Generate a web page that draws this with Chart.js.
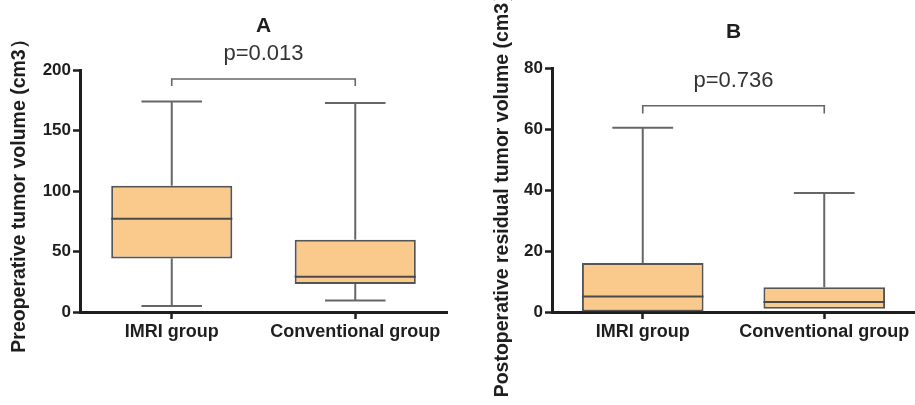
<!DOCTYPE html>
<html>
<head>
<meta charset="utf-8">
<script src="https://cdn.jsdelivr.net/npm/chart.js@4"></script>
<style>
  body { margin: 0; background: #fff; }
  .wrap { position: absolute; top: 0; }
</style>
</head>
<body>
<div class="wrap" style="left:0"><canvas id="chartA" width="455" height="405"></canvas></div>
<div class="wrap" style="left:455px"><canvas id="chartB" width="460" height="405"></canvas></div>
<script>
// categories
const groups = ['IMRI group', 'Conventional group'];

// panel A: preoperative tumor volume
const aMin = [5, 9.6];
const aQ1 = [44.3, 23.1];
const aMedian = [77, 29.2];
const aQ3 = [104.4, 59.8];
const aMax = [174, 172.7];
const aBracket = [192.6, 186.8]; // bar level, tip level
const aPText = 'p=0.013';
const aTicks = { max: 200, step: 50 };

// panel B: postoperative residual tumor volume
const bMin = [0, 0];
const bQ1 = [0, 1.1];
const bMedian = [5.1, 3.3];
const bQ3 = [16.1, 8.1];
const bMax = [60.5, 39.1];
const bBracket = [67.7, 65.2];
const bPText = 'p=0.736';
const bTicks = { max: 80, step: 20 };

Chart.defaults.font.family = '"Liberation Sans", Arial, sans-serif';

const boxParts = {
  id: 'boxParts',
  afterDatasetsDraw(chart, args, opts) {
    const ctx = chart.ctx;
    const x = chart.scales.x, y = chart.scales.y;
    const meta = chart.getDatasetMeta(0);
    const line = (x1, y1, x2, y2) => {
      ctx.beginPath(); ctx.moveTo(x1, y1); ctx.lineTo(x2, y2); ctx.stroke();
    };
    ctx.save();
    meta.data.forEach((bar, i) => {
      const cx = bar.x, half = bar.width / 2, cap = bar.width / 4;
      ctx.strokeStyle = '#666';
      ctx.lineWidth = 2;
      // upper whisker + cap
      line(cx, y.getPixelForValue(opts.q3[i]), cx, y.getPixelForValue(opts.max[i]));
      line(cx - cap, y.getPixelForValue(opts.max[i]), cx + cap, y.getPixelForValue(opts.max[i]));
      // lower whisker + cap (hidden by the axis when it sits at zero)
      if (opts.min[i] > y.min) {
        line(cx, y.getPixelForValue(opts.q1[i]), cx, y.getPixelForValue(opts.min[i]));
        line(cx - cap, y.getPixelForValue(opts.min[i]), cx + cap, y.getPixelForValue(opts.min[i]));
      }
      // median
      ctx.strokeStyle = '#4a4a4a';
      line(cx - half, y.getPixelForValue(opts.median[i]), cx + half, y.getPixelForValue(opts.median[i]));
    });
    // significance bracket
    const x0 = x.getPixelForValue(0), x1 = x.getPixelForValue(1);
    const yb = y.getPixelForValue(opts.bracket[0]), yt = y.getPixelForValue(opts.bracket[1]);
    ctx.strokeStyle = '#666';
    ctx.lineWidth = 1.6;
    ctx.beginPath();
    ctx.moveTo(x0, yt); ctx.lineTo(x0, yb); ctx.lineTo(x1, yb); ctx.lineTo(x1, yt);
    ctx.stroke();
    ctx.fillStyle = '#333';
    ctx.font = '22px "Liberation Sans", Arial, sans-serif';
    ctx.textAlign = 'center';
    ctx.textBaseline = 'middle';
    ctx.fillText(opts.pText, (x0 + x1) / 2, yb - 25);
    ctx.restore();
  }
};

function makeChart(id, cfg) {
  return new Chart(document.getElementById(id), {
    type: 'bar',
    data: {
      labels: groups,
      datasets: [{
        data: cfg.q1.map((v, i) => [v, cfg.q3[i]]),
        backgroundColor: '#F9CA8C',
        borderColor: '#555',
        borderWidth: 2,
        borderSkipped: false,
        barPercentage: cfg.barPct,
        categoryPercentage: 1
      }]
    },
    options: {
      responsive: false,
      animation: false,
      layout: { padding: { left: 0, right: cfg.padRight, top: 0, bottom: 0 } },
      plugins: {
        legend: { display: false },
        tooltip: { enabled: false },
        title: {
          display: true,
          text: cfg.title,
          fullSize: false,
          color: '#1e1e1e',
          font: { size: 21, weight: 'bold' },
          padding: cfg.titlePad
        },
        boxParts: {
          min: cfg.min, q1: cfg.q1, median: cfg.median, q3: cfg.q3, max: cfg.max,
          bracket: cfg.bracket, pText: cfg.pText
        }
      },
      scales: {
        x: {
          offset: true,
          ticks: { color: '#1e1e1e', font: { size: 18, weight: 'bold' }, padding: 2, maxRotation: 0 },
          grid: { offset: false, drawOnChartArea: false, tickLength: 7, tickWidth: 2.5, tickColor: '#1e1e1e' },
          border: { color: '#1e1e1e', width: 3 },
          afterFit(s) { s.height = cfg.xHeight; }
        },
        y: {
          min: 0,
          max: cfg.ticks.max,
          ticks: { stepSize: cfg.ticks.step, color: '#1e1e1e', font: { size: 17, weight: 'bold' }, padding: 2 },
          grid: { drawOnChartArea: false, tickLength: 7, tickWidth: 2.5, tickColor: '#1e1e1e' },
          border: { color: '#1e1e1e', width: 3 },
          title: {
            display: true,
            text: cfg.yTitle,
            color: '#1e1e1e',
            font: { size: 19.5, weight: 'bold' },
            padding: { top: cfg.yTitlePad, bottom: 0 }
          },
          afterFit(s) { s.width = cfg.yWidth; }
        }
      }
    },
    plugins: [boxParts]
  });
}

makeChart('chartA', {
  title: 'A', titlePad: { top: 13.4, bottom: 31.4 },
  yTitle: 'Preoperative tumor volume (cm3）', yTitlePad: 8.3,
  min: aMin, q1: aQ1, median: aMedian, q3: aQ3, max: aMax,
  bracket: aBracket, pText: aPText, ticks: aTicks,
  barPct: 0.66, yWidth: 80, xHeight: 93, padRight: 8
});

makeChart('chartB', {
  title: 'B', titlePad: { top: 19.4, bottom: 23.7 },
  yTitle: 'Postoperative residual tumor volume (cm3）', yTitlePad: 36.3,
  min: bMin, q1: bQ1, median: bMedian, q3: bQ3, max: bMax,
  bracket: bBracket, pText: bPText, ticks: bTicks,
  barPct: 0.67, yWidth: 97, xHeight: 93, padRight: 0
});
</script>
</body>
</html>
